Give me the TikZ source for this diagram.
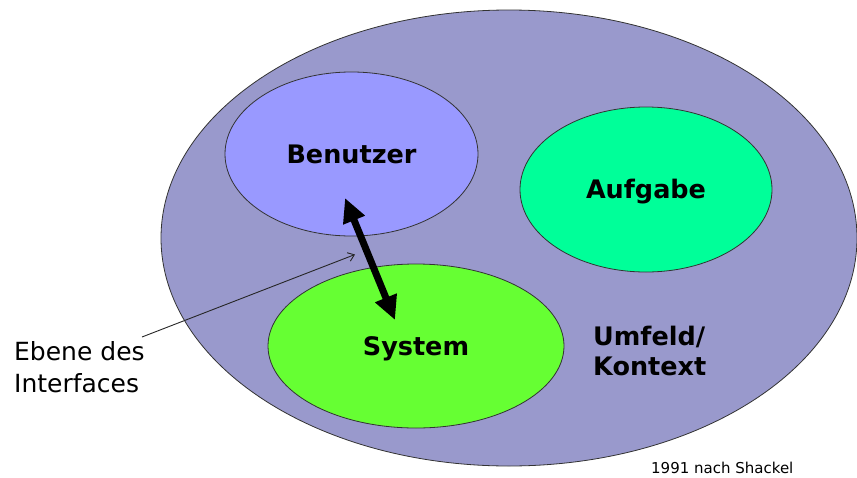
\documentclass[tikz,border=0pt]{standalone}
\usepackage{fontspec}
\setmainfont{DejaVu Sans}
\usetikzlibrary{shapes.geometric,arrows.meta}
\definecolor{outerc}{HTML}{9999CC}
\definecolor{userc}{HTML}{9999FF}
\definecolor{taskc}{HTML}{00FF99}
\definecolor{sysc}{HTML}{66FF33}
\begin{document}
\begin{tikzpicture}[x=1pt,y=-1pt,
  blob/.style={ellipse, draw=black!80, line width=0.8pt, inner sep=0pt,
    font=\fontsize{25.5}{30}\selectfont\bfseries, text height=18pt, text depth=0pt},
  lbl/.style={font=\fontsize{25}{32}\selectfont, align=left, inner sep=0pt},
  lblb/.style={font=\fontsize{25.5}{30}\selectfont\bfseries, align=left, inner sep=0pt}]
\useasboundingbox (0,0) rectangle (857,477);
\node[blob, fill=outerc, minimum width=696pt, minimum height=456pt] (ctx) at (509,238) {};
\node[blob, fill=userc, minimum width=253pt, minimum height=164pt] (ben) at (351.5,154) {Benutzer};
\node[blob, fill=taskc, minimum width=252pt, minimum height=165pt] (auf) at (646,189.5) {Aufgabe};
\node[blob, fill=sysc, minimum width=296pt, minimum height=164pt] (sys) at (416,346) {System};
\node[lblb, anchor=base west] (umf) at (593,375) {Umfeld/\\Kontext};
\node[lbl, anchor=base west] (ebe) at (14,392) {Ebene des\\Interfaces};
\node[font=\fontsize{15}{18}\selectfont, anchor=base west, inner sep=0pt] (src) at (651,473) {1991 nach Shackel};
\coordinate (atop) at (345,198);
\coordinate (abot) at (395,320);
\draw[line width=7pt, {Triangle[length=24pt,width=22pt]}-{Triangle[length=24pt,width=22pt]}] (atop) -- (abot);
\coordinate (nstart) at (142,337);
\coordinate (nend) at (355,254.5);
\draw[line width=0.9pt, black!85, -{Straight Barb[length=6pt,width=9pt]}] (nstart) -- (nend);
\end{tikzpicture}
\end{document}
